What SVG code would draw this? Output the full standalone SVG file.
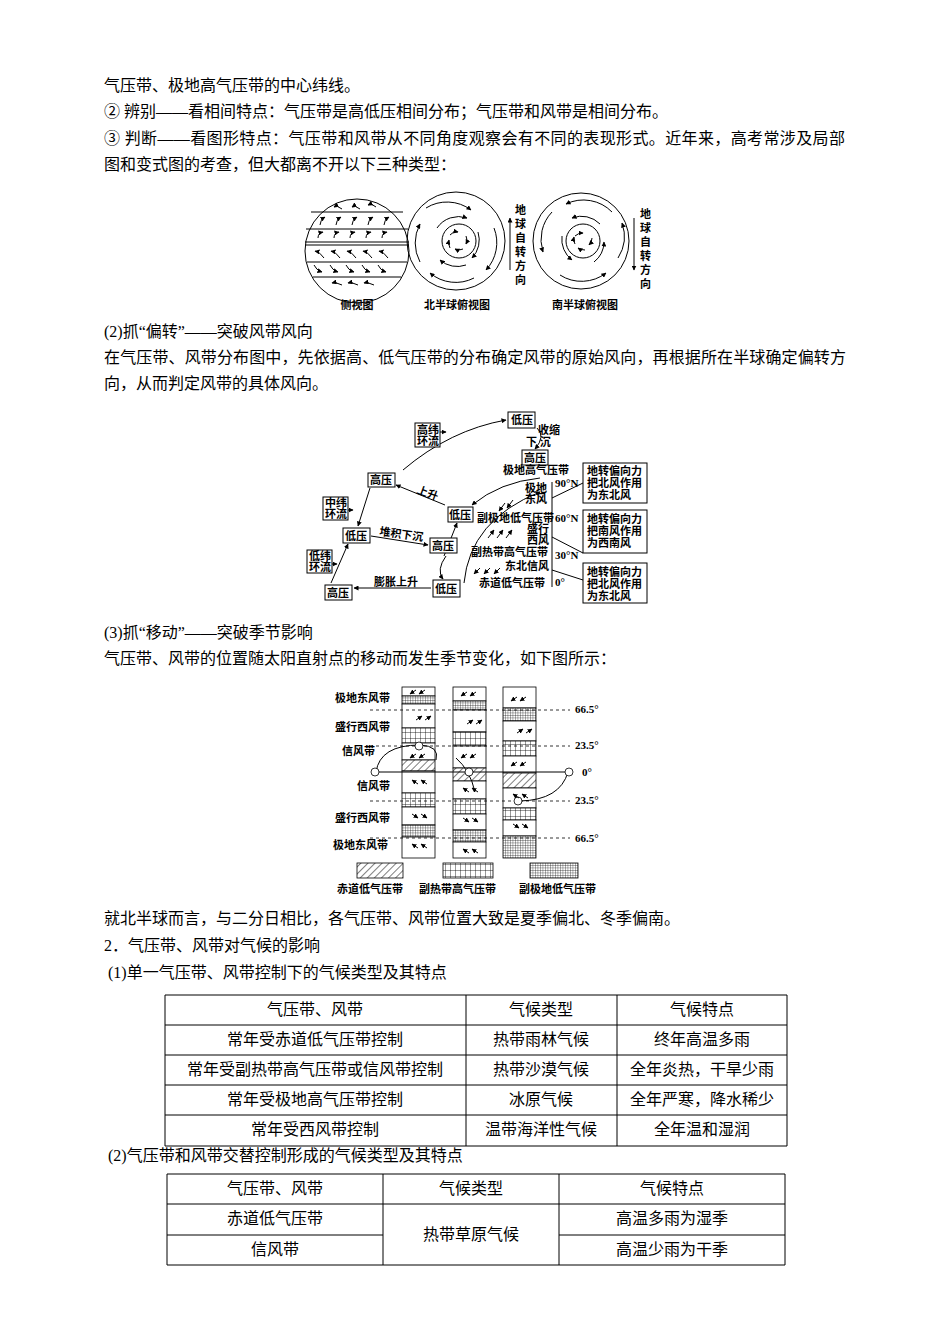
<svg xmlns="http://www.w3.org/2000/svg" width="950" height="1344" viewBox="0 0 950 1344">
<style>
.t{font-family:"Liberation Serif","Noto Sans CJK SC",serif;font-size:16px;fill:#000}
.s{font-family:"Liberation Serif","Noto Sans CJK SC",serif;font-size:11px;fill:#000;font-weight:bold}
.c{text-anchor:middle}
.ln{stroke:#000;stroke-width:1;fill:none}
.ar{stroke:#000;stroke-width:1;fill:none;marker-end:url(#ah)}
.bx{fill:#fff;stroke:#000;stroke-width:1}
</style>
<defs>
<marker id="ah" viewBox="0 0 10 10" refX="9" refY="5" markerWidth="5" markerHeight="5" orient="auto"><path d="M0,0L10,5L0,10z" fill="#000"/></marker>
<pattern id="hat" width="5" height="5" patternUnits="userSpaceOnUse" patternTransform="rotate(45)"><rect width="5" height="5" fill="#fff"/><line x1="0" y1="0" x2="0" y2="5" stroke="#000" stroke-width="1"/></pattern>
<pattern id="grd" width="5" height="6" patternUnits="userSpaceOnUse"><rect width="5" height="6" fill="#fff"/><path d="M0,0H5M0,0V6" stroke="#000" stroke-width="0.8"/></pattern>
<pattern id="dns" width="2.5" height="2.5" patternUnits="userSpaceOnUse"><rect width="2.5" height="2.5" fill="#fff"/><path d="M0,0H2.5M0,0V2.5" stroke="#000" stroke-width="0.6"/></pattern>
</defs>

<g id="text">
<text class="t" x="104" y="91">气压带、极地高气压带的中心纬线。</text>
<text class="t" x="104" y="117">② 辨别——看相间特点：气压带是高低压相间分布；气压带和风带是相间分布。</text>
<text class="t" x="104" y="144" textLength="741">③ 判断——看图形特点：气压带和风带从不同角度观察会有不同的表现形式。近年来，高考常涉及局部</text>
<text class="t" x="104" y="170">图和变式图的考查，但大都离不开以下三种类型：</text>
<text class="t" x="104" y="337">(2)抓“偏转”——突破风带风向</text>
<text class="t" x="104" y="363" textLength="742">在气压带、风带分布图中，先依据高、低气压带的分布确定风带的原始风向，再根据所在半球确定偏转方</text>
<text class="t" x="104" y="389">向，从而判定风带的具体风向。</text>
<text class="t" x="104" y="638">(3)抓“移动”——突破季节影响</text>
<text class="t" x="104" y="664">气压带、风带的位置随太阳直射点的移动而发生季节变化，如下图所示：</text>
<text class="t" x="104" y="924">就北半球而言，与二分日相比，各气压带、风带位置大致是夏季偏北、冬季偏南。</text>
<text class="t" x="104" y="951">2．气压带、风带对气候的影响</text>
<text class="t" x="108" y="978">(1)单一气压带、风带控制下的气候类型及其特点</text>
<text class="t" x="108" y="1161">(2)气压带和风带交替控制形成的气候类型及其特点</text>
</g>

<g id="fig1">
<circle class="ln" cx="357" cy="251" r="52"/>
<path class="ln" d="M311,212H403M306,229H408M305,242H409M305,245H409M307,262H407M313,277H401"/>
<g class="ar">
<path d="M342,209q-5,-4,-8,-2"/><path d="M360,209q-5,-4,-8,-2"/><path d="M376,207q-4,-4,-8,-2"/>
<path d="M320,225q0,-5,5,-8"/><path d="M336,225q0,-5,5,-8"/><path d="M352,225q0,-5,5,-8"/><path d="M368,225q0,-5,5,-8"/><path d="M384,225q0,-5,5,-8"/>
<path d="M318,238q0,-5,5,-6"/><path d="M334,238q0,-5,5,-6"/><path d="M350,238q0,-5,5,-6"/><path d="M366,238q0,-5,5,-6"/><path d="M382,238q0,-5,5,-6"/>
<path d="M324,258q-4,-6,-9,-7"/><path d="M340,258q-4,-6,-9,-7"/><path d="M356,258q-4,-6,-9,-7"/><path d="M372,258q-4,-6,-9,-7"/><path d="M388,258q-4,-6,-9,-7"/>
<path d="M314,265q2,5,8,7"/><path d="M330,265q2,5,8,7"/><path d="M346,265q2,5,8,7"/><path d="M362,265q2,5,8,7"/><path d="M378,265q2,5,8,7"/>
<path d="M342,285q-6,-3,-10,-2"/><path d="M358,285q-6,-3,-10,-2"/><path d="M374,285q-6,-3,-10,-2"/>
</g>
<circle class="ln" cx="456" cy="241" r="49"/>
<g class="ar">
<path d="M426,208a40,40 0 0 1 45,2"/><path d="M494,228a40,40 0 0 1 -8,42"/><path d="M474,278a40,40 0 0 1 -44,-5"/><path d="M420,262a40,40 0 0 1 0,-38"/>
<path d="M437,228a26,26 0 0 1 30,-10"/><path d="M478,232a26,26 0 0 1 -6,26"/><path d="M466,265a26,26 0 0 1 -26,-5"/>
<circle cx="459" cy="241" r="17" fill="none"/>
<path d="M450,235q3,-4,8,-3"/><path d="M466,236q2,4,0,8"/><path d="M463,249q-4,2,-8,0"/><path d="M450,248q-2,-4,-1,-8"/>
<path d="M510,270V218"/>
</g>
<circle class="ln" cx="581" cy="241" r="48"/>
<g class="ar">
<path d="M612,212a40,40 0 0 0 -46,-8"/><path d="M552,212a40,40 0 0 0 -9,40"/><path d="M560,275a40,40 0 0 0 46,-2"/><path d="M618,258a40,40 0 0 0 4,-35"/>
<path d="M600,224a26,26 0 0 0 -28,-6"/><path d="M562,236a26,26 0 0 0 10,24"/><path d="M594,262a26,26 0 0 0 10,-20"/>
<circle cx="583" cy="241" r="17" fill="none"/>
<path d="M575,236q3,-3,8,-3"/><path d="M592,238q0,4,-3,7"/><path d="M585,250q-4,0,-7,-2"/><path d="M575,244q-2,-3,-1,-7"/>
<path d="M634,218V270"/>
</g>
<g class="s" font-size="12">
<text x="515" y="214">地</text><text x="515" y="228">球</text><text x="515" y="242">自</text><text x="515" y="256">转</text><text x="515" y="270">方</text><text x="515" y="284">向</text>
<text x="640" y="218">地</text><text x="640" y="232">球</text><text x="640" y="246">自</text><text x="640" y="260">转</text><text x="640" y="274">方</text><text x="640" y="288">向</text>
</g>
<text class="s c" x="357" y="309" font-size="12">侧视图</text>
<text class="s c" x="457" y="309" font-size="12">北半球俯视图</text>
<text class="s c" x="585" y="309" font-size="12">南半球俯视图</text>
</g>

<g id="fig2">
<g class="ar">
<path d="M403,470Q450,430,506,420"/>
<path d="M537,428Q546,436,535,449"/>
<path d="M445,505L396,485"/>
<path d="M370,488L358,526"/>
<path d="M371,536L428,545"/>
<path d="M446,556Q436,570,443,579"/>
<path d="M444,556L457,523"/>
<path d="M431,588H354"/>
<path d="M331,583L348,544"/>
<path d="M540,478Q500,482,472,505"/>
<path d="M464,583Q470,520,540,492"/>
</g>
<path class="ln" d="M552,482V587M552,498L583,483M552,537L583,553M552,570L583,580"/>
<g class="ar">
<path d="M505,503l-6,8"/><path d="M513,500l-6,8"/>
<path d="M488,538l6,-8"/><path d="M497,538l6,-8"/><path d="M506,538l6,-8"/>
<path d="M480,568l-6,6"/><path d="M490,568l-6,6"/><path d="M500,568l-6,6"/>
<path d="M436,432h10"/><path d="M343,510h10"/><path d="M327,564h10"/>
</g>
<rect class="bx" x="508" y="412" width="27" height="16"/><text class="s" x="511" y="424">低压</text>
<rect class="bx" x="522" y="450" width="26" height="15"/><text class="s" x="524" y="462">高压</text>
<text class="s" x="538" y="434">收缩</text><text class="s" x="526" y="446">下 沉</text>
<rect class="bx" x="415" y="423" width="25" height="24"/><text class="s" x="417" y="434">高纬</text><text class="s" x="417" y="445">环流</text>
<rect class="bx" x="368" y="473" width="27" height="14"/><text class="s" x="370" y="484">高压</text>
<text class="s" x="416" y="493" transform="rotate(20 416 493)">上升</text>
<rect class="bx" x="323" y="497" width="25" height="23"/><text class="s" x="325" y="507">中纬</text><text class="s" x="325" y="518">环流</text>
<rect class="bx" x="448" y="507" width="25" height="15"/><text class="s" x="449" y="519">低压</text>
<rect class="bx" x="343" y="528" width="27" height="15"/><text class="s" x="345" y="540">低压</text>
<text class="s" x="379" y="535" transform="rotate(8 379 535)">堆积下沉</text>
<rect class="bx" x="430" y="538" width="27" height="15"/><text class="s" x="432" y="550">高压</text>
<rect class="bx" x="307" y="550" width="25" height="23"/><text class="s" x="309" y="560">低纬</text><text class="s" x="309" y="571">环流</text>
<rect class="bx" x="325" y="585" width="27" height="15"/><text class="s" x="327" y="597">高压</text>
<text class="s" x="374" y="586">膨胀上升</text>
<rect class="bx" x="433" y="580" width="27" height="17"/><text class="s" x="435" y="593">低压</text>
<text class="s" x="503" y="474" font-size="10.5">极地高气压带</text>
<text class="s" x="525" y="492">极地</text><text class="s" x="525" y="503">东风</text>
<text class="s" x="477" y="522" font-size="10.5">副极地低气压带</text>
<text class="s" x="527" y="533">盛行</text><text class="s" x="527" y="544">西风</text>
<text class="s" x="471" y="556">副热带高气压带</text>
<text class="s" x="505" y="570">东北信风</text>
<text class="s" x="479" y="587">赤道低气压带</text>
<text class="s" x="555" y="487">90°N</text><text class="s" x="555" y="522">60°N</text><text class="s" x="555" y="559">30°N</text><text class="s" x="555" y="586">0°</text>
<rect class="bx" x="583" y="463" width="64" height="40"/><text class="s" x="587" y="475">地转偏向力</text><text class="s" x="587" y="487">把北风作用</text><text class="s" x="587" y="499">为东北风</text>
<rect class="bx" x="583" y="510" width="64" height="43"/><text class="s" x="587" y="523">地转偏向力</text><text class="s" x="587" y="535">把南风作用</text><text class="s" x="587" y="547">为西南风</text>
<rect class="bx" x="583" y="563" width="64" height="40"/><text class="s" x="587" y="576">地转偏向力</text><text class="s" x="587" y="588">把北风作用</text><text class="s" x="587" y="600">为东北风</text>
</g>

<g id="fig3">
<g stroke="#000" stroke-width="0.8">
<rect x="402" y="687" width="33" height="9" fill="#fff"/><rect x="402" y="696" width="33" height="8" fill="url(#dns)"/><rect x="402" y="704" width="33" height="24" fill="#fff"/><rect x="402" y="728" width="33" height="15" fill="url(#grd)"/><rect x="402" y="743" width="33" height="17" fill="#fff"/><rect x="402" y="760" width="33" height="11" fill="url(#hat)"/><rect x="402" y="771" width="33" height="22" fill="#fff"/><rect x="402" y="793" width="33" height="14" fill="url(#grd)"/><rect x="402" y="807" width="33" height="18" fill="#fff"/><rect x="402" y="825" width="33" height="12" fill="url(#dns)"/><rect x="402" y="837" width="33" height="21" fill="#fff"/>
<rect x="453" y="687" width="33" height="14" fill="#fff"/><rect x="453" y="701" width="33" height="9" fill="url(#dns)"/><rect x="453" y="710" width="33" height="22" fill="#fff"/><rect x="453" y="732" width="33" height="14" fill="url(#grd)"/><rect x="453" y="746" width="33" height="22" fill="#fff"/><rect x="453" y="768" width="33" height="13" fill="url(#hat)"/><rect x="453" y="781" width="33" height="18" fill="#fff"/><rect x="453" y="799" width="33" height="15" fill="url(#grd)"/><rect x="453" y="814" width="33" height="16" fill="#fff"/><rect x="453" y="830" width="33" height="12" fill="url(#dns)"/><rect x="453" y="842" width="33" height="16" fill="#fff"/>
<rect x="503" y="687" width="33" height="21" fill="#fff"/><rect x="503" y="708" width="33" height="13" fill="url(#dns)"/><rect x="503" y="721" width="33" height="20" fill="#fff"/><rect x="503" y="741" width="33" height="15" fill="url(#grd)"/><rect x="503" y="756" width="33" height="17" fill="#fff"/><rect x="503" y="773" width="33" height="15" fill="url(#hat)"/><rect x="503" y="788" width="33" height="20" fill="#fff"/><rect x="503" y="808" width="33" height="12" fill="url(#grd)"/><rect x="503" y="820" width="33" height="16" fill="#fff"/><rect x="503" y="836" width="33" height="22" fill="url(#dns)"/>
</g>
<g stroke="#000" stroke-dasharray="3,3" stroke-width="0.8">
<path d="M370,710H570M370,746H570M370,801H570M370,838H570"/>
</g>
<path class="ln" d="M376,772H568"/>
<g class="ln"><path d="M376,772Q380,745,420,745Q440,746,436,760"/><path d="M456,758Q470,770,475,792"/><path d="M568,772Q560,800,520,801"/></g>
<g fill="#fff" stroke="#000" stroke-width="0.8">
<circle cx="375" cy="772" r="4"/><circle cx="419" cy="746" r="4"/><circle cx="469" cy="772" r="4"/><circle cx="569" cy="772" r="4"/><circle cx="518" cy="801" r="4"/>
</g>
<g class="ar">
<path d="M416,690l-6,4"/><path d="M425,690l-6,4"/><path d="M416,720l6,-4"/><path d="M425,720l6,-4"/><path d="M416,754l-6,4"/><path d="M425,754l-6,4"/><path d="M418,784l-6,-4"/><path d="M427,784l-6,-4"/><path d="M412,814l6,4"/><path d="M421,814l6,4"/><path d="M418,848l-6,-4"/><path d="M427,848l-6,-4"/>
<path d="M467,692l-6,4"/><path d="M476,692l-6,4"/><path d="M467,724l6,-4"/><path d="M476,724l6,-4"/><path d="M467,754l-6,4"/><path d="M476,754l-6,4"/><path d="M469,792l-6,-4"/><path d="M478,792l-6,-4"/><path d="M463,818l6,4"/><path d="M472,818l6,4"/><path d="M469,853l-6,-4"/><path d="M478,853l-6,-4"/>
<path d="M517,697l-6,4"/><path d="M526,697l-6,4"/><path d="M517,733l6,-4"/><path d="M526,733l6,-4"/><path d="M517,762l-6,4"/><path d="M526,762l-6,4"/><path d="M519,798l-6,-4"/><path d="M528,798l-6,-4"/><path d="M513,824l6,4"/><path d="M522,824l6,4"/>
</g>
<g class="s">
<text x="335" y="702">极地东风带</text><text x="335" y="731">盛行西风带</text><text x="342" y="755">信风带</text><text x="357" y="790">信风带</text><text x="335" y="822">盛行西风带</text><text x="333" y="849">极地东风带</text>
<text x="575" y="713">66.5°</text><text x="575" y="749">23.5°</text><text x="582" y="776">0°</text><text x="575" y="804">23.5°</text><text x="575" y="842">66.5°</text>
</g>
<rect x="357" y="863" width="46" height="15" fill="url(#hat)" stroke="#000" stroke-width="0.8"/>
<rect x="443" y="863" width="50" height="15" fill="url(#grd)" stroke="#000" stroke-width="0.8"/>
<rect x="530" y="863" width="48" height="15" fill="url(#dns)" stroke="#000" stroke-width="0.8"/>
<g class="s"><text x="337" y="893">赤道低气压带</text><text x="419" y="893">副热带高气压带</text><text x="519" y="893">副极地低气压带</text></g>
</g>

<g id="table1">
<path class="ln" d="M165,995H787V1146H165ZM165,1025H787M165,1055H787M165,1085H787M165,1115H787M466,995V1146M617,995V1146"/>
<g class="t c">
<text x="315" y="1015">气压带、风带</text><text x="541" y="1015">气候类型</text><text x="702" y="1015">气候特点</text>
<text x="315" y="1045">常年受赤道低气压带控制</text><text x="541" y="1045">热带雨林气候</text><text x="702" y="1045">终年高温多雨</text>
<text x="315" y="1075">常年受副热带高气压带或信风带控制</text><text x="541" y="1075">热带沙漠气候</text><text x="702" y="1075">全年炎热，干旱少雨</text>
<text x="315" y="1105">常年受极地高气压带控制</text><text x="541" y="1105">冰原气候</text><text x="702" y="1105">全年严寒，降水稀少</text>
<text x="315" y="1135">常年受西风带控制</text><text x="541" y="1135">温带海洋性气候</text><text x="702" y="1135">全年温和湿润</text>
</g>
</g>

<g id="table2">
<path class="ln" d="M167,1174H785V1265H167ZM167,1204H785M167,1235H383M559,1235H785M383,1174V1265M559,1174V1265"/>
<g class="t c">
<text x="275" y="1194">气压带、风带</text><text x="471" y="1194">气候类型</text><text x="672" y="1194">气候特点</text>
<text x="275" y="1224">赤道低气压带</text><text x="471" y="1240">热带草原气候</text><text x="672" y="1224">高温多雨为湿季</text>
<text x="275" y="1255">信风带</text><text x="672" y="1255">高温少雨为干季</text>
</g>
</g>
</svg>
